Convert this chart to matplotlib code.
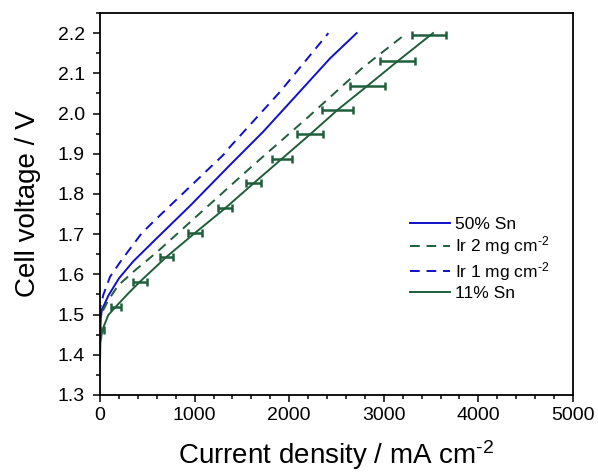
import matplotlib
matplotlib.use("Agg")
import matplotlib.pyplot as plt
from matplotlib.ticker import MultipleLocator

plt.rcParams['font.family'] = ['Liberation Sans', 'DejaVu Sans']
plt.rcParams['mathtext.fontset'] = 'custom'
plt.rcParams['mathtext.rm'] = 'Liberation Sans'
plt.rcParams['mathtext.default'] = 'rm'

# 50% Sn (blue solid)
sn50_j = [0, 8, 20, 88, 200, 350, 600, 950, 1374, 1726, 2079, 2431, 2713]
sn50_v = [1.44, 1.49, 1.512, 1.547, 1.590, 1.632, 1.690, 1.770, 1.872, 1.955, 2.046, 2.137, 2.200]

# Ir 2 mg cm-2 (green dashed)
ir2_j = [0, 10, 88, 194, 370, 600, 1000, 1603, 2185, 2766, 3242]
ir2_v = [1.47, 1.50, 1.536, 1.573, 1.610, 1.655, 1.740, 1.868, 1.988, 2.112, 2.200]

# Ir 1 mg cm-2 (blue dashed)
ir1_j = [0, 5, 35, 106, 229, 440, 564, 1000, 1303, 1374, 1903, 2414]
ir1_v = [1.50, 1.52, 1.549, 1.594, 1.636, 1.702, 1.731, 1.829, 1.897, 1.917, 2.054, 2.200]

# 11% Sn (green solid) line
sn11_j = [0, 4, 25, 88, 169, 300, 423, 705, 1004, 1321, 1621, 1920, 2220, 2511, 2828, 3145, 3520]
sn11_v = [1.385, 1.43, 1.462, 1.499, 1.520, 1.553, 1.582, 1.644, 1.703, 1.764, 1.826, 1.887, 1.948, 2.009, 2.069, 2.130, 2.200]

# 11% Sn error bars (x errors)
bar_j = [25, 169, 423, 705, 1004, 1321, 1621, 1920, 2220, 2511, 2828, 3145, 3474]
bar_v = [1.462, 1.520, 1.582, 1.644, 1.703, 1.764, 1.826, 1.887, 1.948, 2.009, 2.069, 2.130, 2.195]
bar_err = [20, 55, 70, 70, 75, 70, 79, 106, 140, 160, 185, 185, 180]

blue = '#1010c8'
green = '#1f5e3a'

fig = plt.figure(figsize=(5.98, 4.72), dpi=100)
ax = fig.add_axes([100/598, 1-395/472, 473/598, 382/472])

ax.plot(sn50_j, sn50_v, color=blue, lw=1.4, label='50% Sn')
ax.plot(ir2_j, ir2_v, color=green, lw=1.4, dashes=(5, 3.5), label=r'Ir 2 mg cm$^{\text{-2}}$')
ax.plot(ir1_j, ir1_v, color=blue, lw=1.4, dashes=(5, 3.5), label=r'Ir 1 mg cm$^{\text{-2}}$')
ax.plot(sn11_j, sn11_v, color=green, lw=1.4, label='11% Sn')
ax.errorbar(bar_j, bar_v, xerr=bar_err, fmt='none', ecolor=green,
            elinewidth=1.8, capsize=3, capthick=1.8, label='_nolegend_')

ax.set_xlim(0, 5000)
ax.set_ylim(1.3, 2.25)
ax.set_xticks([0, 1000, 2000, 3000, 4000, 5000])
ax.set_yticks([1.3, 1.4, 1.5, 1.6, 1.7, 1.8, 1.9, 2.0, 2.1, 2.2])
ax.xaxis.set_minor_locator(MultipleLocator(200))
ax.yaxis.set_minor_locator(MultipleLocator(0.05))
ax.tick_params(which='both', direction='out', width=1.1, labelsize=14,
               top=False, right=False)
ax.tick_params(axis='y', pad=6)
ax.tick_params(axis='x', pad=4)
ax.tick_params(which='major', length=5)
ax.tick_params(which='minor', length=3)
for s in ax.spines.values():
    s.set_linewidth(1.3)

ax.set_xlabel(r'Current density / mA cm$^{\text{-2}}$', fontsize=20, labelpad=10)
ax.set_ylabel('Cell voltage / V', fontsize=20, labelpad=12)

ax.legend(loc='center left', bbox_to_anchor=(0.655, 0.357), frameon=False,
          fontsize=12.5, handlelength=2.3, handletextpad=0.3,
          labelspacing=0.15, borderpad=0, borderaxespad=0)

fig.savefig('out.png', dpi=100)
